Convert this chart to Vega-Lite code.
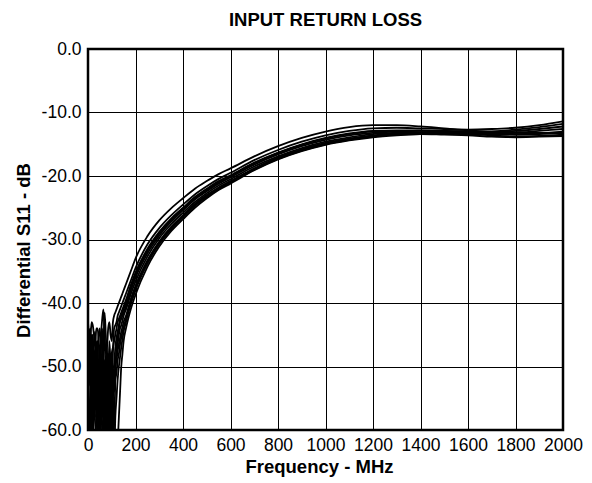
{
  "$schema": "https://vega.github.io/schema/vega-lite/v6.json",
  "autosize": {"type": "none"},
  "width": 475,
  "height": 381,
  "padding": {"left": 88, "top": 49, "right": 29, "bottom": 53},
  "background": "white",
  "title": {"text": "INPUT RETURN LOSS", "font": "Liberation Sans", "fontSize": 18.5, "fontWeight": "bold", "color": "black", "anchor": "middle", "offset": 11},
  "data": {"values": [
    {"f": 0, "A": -44, "B": -46, "C": -48, "D": -50, "E": -45, "F": -47, "G": -52, "H": -55, "I": -43, "J": -49},
    {"f": 5, "A": -47, "B": -49, "C": -45, "D": -56, "E": -50, "F": -58, "G": -47, "H": -60, "I": -46, "J": -53},
    {"f": 10, "A": -46, "B": -50, "C": -44, "D": -58, "E": -52, "F": -62, "G": -48, "H": -63, "I": -51, "J": -47},
    {"f": 15, "A": -43, "B": -47, "C": -51, "D": -49, "E": -58, "F": -53, "G": -55, "H": -57, "I": -45, "J": -61},
    {"f": 20, "A": -43.5, "B": -45, "C": -55, "D": -47, "E": -62, "F": -50, "G": -58, "H": -51, "I": -49, "J": -56},
    {"f": 25, "A": -45, "B": -52, "C": -50, "D": -54, "E": -53, "F": -46, "G": -63, "H": -56, "I": -57, "J": -50},
    {"f": 30, "A": -47, "B": -56, "C": -47, "D": -52, "E": -49, "F": -44.5, "G": -65, "H": -59, "I": -48, "J": -58},
    {"f": 35, "A": -44, "B": -51, "C": -55, "D": -48, "E": -51, "F": -52, "G": -57, "H": -64, "I": -53, "J": -46},
    {"f": 40, "A": -44, "B": -48, "C": -62, "D": -46, "E": -54, "F": -57, "G": -50, "H": -66, "I": -46, "J": -55},
    {"f": 45, "A": -46, "B": -45, "C": -54, "D": -57, "E": -50, "F": -49, "G": -53, "H": -58, "I": -60, "J": -51},
    {"f": 50, "A": -50, "B": -44, "C": -49, "D": -65, "E": -47, "F": -52, "G": -56, "H": -53, "I": -52, "J": -62},
    {"f": 55, "A": -45, "B": -48, "C": -46, "D": -55, "E": -53, "F": -58, "G": -61, "H": -57, "I": -47, "J": -54},
    {"f": 60, "A": -42.5, "B": -52, "C": -45, "D": -50, "E": -58, "F": -48, "G": -63, "H": -60, "I": -44, "J": -49},
    {"f": 65, "A": -41, "B": -47, "C": -50, "D": -47, "E": -55, "F": -56, "G": -54, "H": -64, "I": -50, "J": -57},
    {"f": 70, "A": -45, "B": -41.5, "C": -53, "D": -46, "E": -51, "F": -66, "G": -49, "H": -56, "I": -58, "J": -52},
    {"f": 75, "A": -48, "B": -45, "C": -49, "D": -55, "E": -49, "F": -59, "G": -52, "H": -61, "I": -53, "J": -60},
    {"f": 80, "A": -47, "B": -49, "C": -47, "D": -62, "E": -48, "F": -53, "G": -57, "H": -65, "I": -48, "J": -55},
    {"f": 85, "A": -44, "B": -52, "C": -54, "D": -56, "E": -57, "F": -48, "G": -62, "H": -59, "I": -55, "J": -50},
    {"f": 90, "A": -43, "B": -46, "C": -58, "D": -51, "E": -64, "F": -50, "G": -54, "H": -58, "I": -61, "J": -53},
    {"f": 95, "A": -45, "B": -50, "C": -52, "D": -48, "E": -56, "F": -57, "G": -50, "H": -64, "I": -52, "J": -63},
    {"f": 100, "A": -46, "B": -55, "C": -48, "D": -49, "E": -52, "F": -62, "G": -51, "H": -55, "I": -49, "J": -57},
    {"f": 105, "A": -43, "B": -48, "C": -47, "D": -55, "E": -50, "F": -55, "G": -59, "H": -60, "I": -53, "J": -51},
    {"f": 110, "A": -42, "B": -44, "C": -46, "D": -60, "E": -50, "F": -52, "G": -65, "H": -63, "I": -50, "J": -54},
    {"f": 115, "A": -41.5, "B": -43.5, "C": -45, "D": -52, "E": -49, "F": -50, "G": -58, "H": -66, "I": -47, "J": -52},
    {"f": 120, "A": -41, "B": -43, "C": -44, "D": -47, "E": -48, "F": -49, "G": -55, "H": -66, "I": -45.5, "J": -51},
    {"f": 125, "A": -40.5, "B": -42, "C": -43, "D": -45.5, "E": -46.5, "F": -47.5, "G": -52, "H": -62, "I": -44.5, "J": -49},
    {"f": 130, "A": -40, "B": -41.5, "C": -42.5, "D": -44, "E": -45, "F": -46.5, "G": -50, "H": -58, "I": -43.5, "J": -48},
    {"f": 135, "A": -39.5, "B": -41, "C": -42, "D": -43, "E": -44, "F": -45.5, "G": -48.5, "H": -54, "I": -42.5, "J": -46.5},
    {"f": 140, "A": -39, "B": -40.5, "C": -41.5, "D": -42.5, "E": -43.5, "F": -44.5, "G": -47, "H": -50, "I": -42, "J": -45.5},
    {"f": 145, "A": -38.5, "B": -40, "C": -41, "D": -42, "E": -42.8, "F": -43.8, "G": -45.7, "H": -48, "I": -41.5, "J": -44.6},
    {"f": 150, "A": -38, "B": -39.5, "C": -40.5, "D": -41.5, "E": -42, "F": -43, "G": -44.5, "H": -46, "I": -41, "J": -43.8},
    {"f": 160, "A": -37, "B": -38.5, "C": -39.5, "D": -40.5, "E": -41, "F": -42, "G": -43, "H": -44, "I": -40, "J": -42.5},
    {"f": 180, "A": -35, "B": -36.5, "C": -37.2, "D": -38, "E": -38.6, "F": -39.4, "G": -40.2, "H": -41, "I": -37.6, "J": -39.8},
    {"f": 200, "A": -33, "B": -34.5, "C": -35.2, "D": -36, "E": -36.6, "F": -37.3, "G": -38, "H": -38.7, "I": -35.6, "J": -37.6},
    {"f": 250, "A": -29.5, "B": -30.8, "C": -31.5, "D": -32.2, "E": -32.7, "F": -33.3, "G": -33.8, "H": -34.3, "I": -31.8, "J": -33.5},
    {"f": 300, "A": -27, "B": -28.2, "C": -28.8, "D": -29.4, "E": -29.8, "F": -30.3, "G": -30.7, "H": -31.1, "I": -29.1, "J": -30.5},
    {"f": 350, "A": -25.1, "B": -26.2, "C": -26.7, "D": -27.2, "E": -27.6, "F": -28, "G": -28.4, "H": -28.7, "I": -26.9, "J": -28.2},
    {"f": 400, "A": -23.5, "B": -24.5, "C": -25, "D": -25.4, "E": -25.8, "F": -26.2, "G": -26.5, "H": -26.8, "I": -25.2, "J": -26.3},
    {"f": 450, "A": -22.0, "B": -22.9, "C": -23.3, "D": -23.7, "E": -24.1, "F": -24.4, "G": -24.7, "H": -25.0, "I": -23.5, "J": -24.5},
    {"f": 500, "A": -20.8, "B": -21.6, "C": -22, "D": -22.4, "E": -22.7, "F": -23, "G": -23.3, "H": -23.5, "I": -22.2, "J": -23.1},
    {"f": 550, "A": -19.7, "B": -20.45, "C": -20.8, "D": -21.2, "E": -21.5, "F": -21.8, "G": -22.0, "H": -22.2, "I": -21.0, "J": -21.9},
    {"f": 600, "A": -18.8, "B": -19.5, "C": -19.9, "D": -20.2, "E": -20.5, "F": -20.8, "G": -21, "H": -21.2, "I": -20, "J": -20.9},
    {"f": 700, "A": -16.9, "B": -17.5, "C": -17.9, "D": -18.2, "E": -18.5, "F": -18.8, "G": -19, "H": -19.1, "I": -18, "J": -18.9},
    {"f": 800, "A": -15.3, "B": -15.9, "C": -16.3, "D": -16.6, "E": -16.9, "F": -17.1, "G": -17.3, "H": -17.4, "I": -16.4, "J": -17.2},
    {"f": 900, "A": -14, "B": -14.6, "C": -15, "D": -15.3, "E": -15.6, "F": -15.8, "G": -16, "H": -16.1, "I": -15.1, "J": -15.9},
    {"f": 1000, "A": -13, "B": -13.6, "C": -14, "D": -14.3, "E": -14.6, "F": -14.8, "G": -15, "H": -15.1, "I": -14.1, "J": -14.9},
    {"f": 1100, "A": -12.3, "B": -12.9, "C": -13.3, "D": -13.6, "E": -13.9, "F": -14.1, "G": -14.3, "H": -14.4, "I": -13.4, "J": -14.2},
    {"f": 1200, "A": -12, "B": -12.5, "C": -12.9, "D": -13.2, "E": -13.4, "F": -13.6, "G": -13.8, "H": -13.9, "I": -13, "J": -13.7},
    {"f": 1300, "A": -12, "B": -12.4, "C": -12.8, "D": -13, "E": -13.2, "F": -13.3, "G": -13.5, "H": -13.6, "I": -12.9, "J": -13.4},
    {"f": 1400, "A": -12.2, "B": -12.5, "C": -12.8, "D": -12.9, "E": -13.1, "F": -13.2, "G": -13.4, "H": -13.4, "I": -12.85, "J": -13.3},
    {"f": 1500, "A": -12.5, "B": -12.6, "C": -12.9, "D": -13, "E": -13.2, "F": -13.2, "G": -13.5, "H": -13.3, "I": -12.9, "J": -13.3},
    {"f": 1600, "A": -12.8, "B": -12.7, "C": -13, "D": -13.2, "E": -13.4, "F": -13.3, "G": -13.6, "H": -13.2, "I": -13, "J": -13.4},
    {"f": 1700, "A": -13, "B": -12.6, "C": -13, "D": -13.4, "E": -13.6, "F": -13.3, "G": -13.8, "H": -13, "I": -13.1, "J": -13.4},
    {"f": 1800, "A": -13.1, "B": -12.4, "C": -12.9, "D": -13.5, "E": -13.8, "F": -13.2, "G": -13.9, "H": -12.7, "I": -13.2, "J": -13.4},
    {"f": 1900, "A": -13.2, "B": -12, "C": -12.6, "D": -13.4, "E": -13.7, "F": -12.9, "G": -13.8, "H": -12.3, "I": -13.2, "J": -13.3},
    {"f": 2000, "A": -13.3, "B": -11.4, "C": -12.2, "D": -13.2, "E": -13.5, "F": -12.6, "G": -13.7, "H": -11.8, "I": -13, "J": -13.2}
  ]},
  "transform": [{"fold": ["A", "B", "C", "D", "E", "F", "G", "H", "I", "J"], "as": ["curve", "db"]}],
  "mark": {"type": "line", "color": "black", "strokeWidth": 1.8, "interpolate": "monotone", "clip": true},
  "encoding": {
    "x": {"field": "f", "type": "quantitative", "scale": {"domain": [0, 2000], "nice": false},
      "axis": {"values": [0, 200, 400, 600, 800, 1000, 1200, 1400, 1600, 1800, 2000], "format": "d", "title": "Frequency - MHz", "labelFlush": false, "labelOverlap": false, "labelPadding": 6, "titlePadding": 4, "titleX": 231}},
    "y": {"field": "db", "type": "quantitative", "scale": {"domain": [-60, 0], "nice": false},
      "axis": {"values": [-60, -50, -40, -30, -20, -10, 0], "labelExpr": "datum.value == 0 ? '0.0' : '-' + format(-datum.value, '.1f')", "title": "Differential S11 - dB", "labelPadding": 7, "titlePadding": 8, "titleY": 201, "labelFlush": false}},
    "detail": {"field": "curve", "type": "nominal"}
  },
  "config": {
    "view": {"stroke": "black", "strokeWidth": 2.5},
    "axis": {
      "domain": false, "ticks": false, "grid": true, "gridColor": "black", "gridOpacity": 1, "gridWidth": 1,
      "labelFont": "Liberation Sans", "labelFontSize": 17.5, "labelColor": "black",
      "titleFont": "Liberation Sans", "titleFontSize": 18.5, "titleFontWeight": "bold", "titleColor": "black"
    }
  }
}
